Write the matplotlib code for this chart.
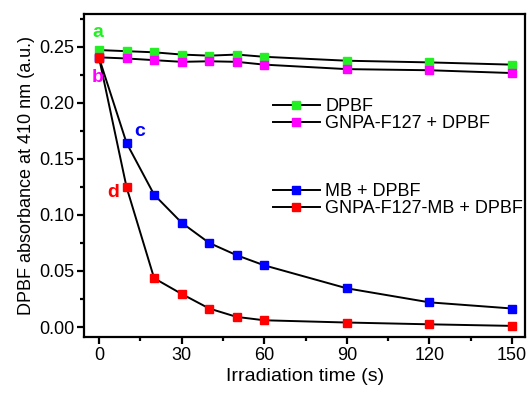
import matplotlib
matplotlib.use("Agg")
from matplotlib import pyplot as plt
from matplotlib.ticker import MultipleLocator

plt.rcParams['font.family'] = ['Liberation Sans', 'DejaVu Sans']

# dados
time_s = [0, 10, 20, 30, 40, 50, 60, 90, 120, 150]
dpbf = [0.247, 0.246, 0.245, 0.243, 0.242, 0.243, 0.241, 0.2375, 0.236, 0.234]
gnpa_dpbf = [0.2405, 0.2395, 0.238, 0.2365, 0.237, 0.2365, 0.234, 0.230, 0.229, 0.2265]
mb_dpbf = [0.240, 0.164, 0.118, 0.093, 0.075, 0.064, 0.055, 0.0345, 0.022, 0.0165]
gnpa_mb_dpbf = [0.240, 0.1245, 0.0435, 0.0295, 0.0165, 0.009, 0.006, 0.004, 0.0024, 0.001]

series_names = ["DPBF", "GNPA-F127 + DPBF", "MB + DPBF", "GNPA-F127-MB + DPBF"]
series_colors = ["#22f022", "#ff00ff", "#0000ff", "#ff0000"]
curve_letters = ["a", "b", "c", "d"]
letter_pos = [(-0.5, 0.2623), (-0.5, 0.2221), (14.9, 0.174), (5.1, 0.1204)]

fig = plt.figure(figsize=(5.29, 3.94), dpi=100)
ax = fig.add_axes([0.1597, 0.1447, 0.8327, 0.821])

all_series = [dpbf, gnpa_dpbf, mb_dpbf, gnpa_mb_dpbf]
handles = []
for values, name, color in zip(all_series, series_names, series_colors):
    h, = ax.plot(time_s, values, color="black", linewidth=1.4,
                 marker="s", markersize=6, markerfacecolor=color,
                 markeredgecolor=color, label=name)
    handles.append(h)

for letter, (lx, ly), color in zip(curve_letters, letter_pos, series_colors):
    ax.text(lx, ly, letter, color=color, fontsize=14, fontweight="bold",
            ha="center", va="center")

ax.set_xlim(-5.3, 154.7)
ax.set_ylim(-0.0089, 0.2796)
ax.xaxis.set_major_locator(MultipleLocator(30))
ax.xaxis.set_minor_locator(MultipleLocator(15))
ax.yaxis.set_major_locator(MultipleLocator(0.05))
ax.yaxis.set_minor_locator(MultipleLocator(0.025))
ax.yaxis.set_major_formatter(lambda v, p: f"{v:.2f}")

for side in ax.spines.values():
    side.set_linewidth(1.6)
ax.tick_params(which="major", direction="out", length=4.8, width=1.6,
               labelsize=13, pad=2.5)
ax.tick_params(which="minor", direction="out", length=3, width=1.6)

ax.set_xlabel("Irradiation time (s)", fontsize=14, labelpad=3)
ax.set_ylabel("DPBF absorbance at 410 nm (a.u.)", fontsize=13, labelpad=3)

legend_opts = dict(frameon=False, fontsize=13, handlelength=2.6,
                   handletextpad=0.3, labelspacing=0.0, borderpad=0,
                   borderaxespad=0, markerscale=0.85)
leg1 = ax.legend(handles=handles[:2], loc="center left",
                 bbox_to_anchor=(0.428, 0.685), **legend_opts)
ax.add_artist(leg1)
ax.legend(handles=handles[2:], loc="center left",
          bbox_to_anchor=(0.428, 0.4235), **legend_opts)

fig.savefig("out.png", dpi=100)
